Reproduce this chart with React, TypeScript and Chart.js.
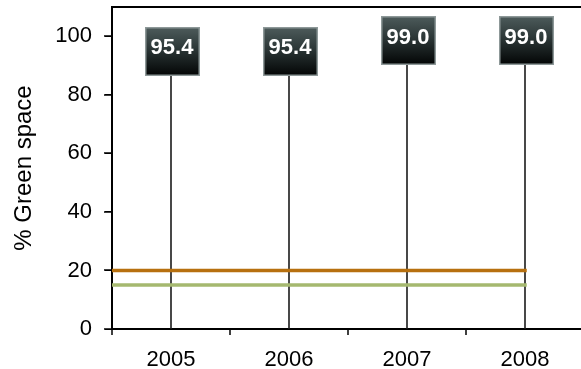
import { useEffect, useRef } from "react";
import { Chart, registerables } from "chart.js";

Chart.register(...registerables);

// Share of green space per year
const years = ["2005", "2006", "2007", "2008"];
const greenSpace = [95.4, 95.4, 99.0, 99.0];

// Horizontal reference levels
const targetLevel = 20;
const minimumLevel = 15;

// Axis ticks
const yTicks = [0, 20, 40, 60, 80, 100];
const xBoundaryTicks = [-0.5, 0.5, 1.5, 2.5, 3.5];
const xStart = xBoundaryTicks[0];

const FONT = "'Liberation Sans', Arial, Helvetica, sans-serif";

// Plot frame: top line, left axis line and its outward tick marks
const frame = {
  id: "frame",
  beforeDatasetsDraw(chart: any) {
    const { ctx, chartArea, width } = chart;
    const ys = chart.scales.y;
    ctx.save();
    ctx.fillStyle = "#000";
    ctx.fillRect(chartArea.left - 1, chartArea.top - 1, width - chartArea.left + 1, 2);
    ctx.fillRect(chartArea.left - 1, chartArea.top - 1, 2, chartArea.bottom - chartArea.top + 2);
    yTicks.forEach((t) => {
      const py = Math.round(ys.getPixelForValue(t));
      ctx.fillRect(chartArea.left - 8, py - 0.75, 8, 1.5);
    });
    ctx.restore();
  },
};

// Dark value boxes sitting on top of each drop line
const valueBoxes = {
  id: "valueBoxes",
  afterDatasetsDraw(chart: any) {
    const { ctx } = chart;
    const xs = chart.scales.x;
    const ys = chart.scales.y;
    const w = 55;
    const h = 49;
    ctx.save();
    greenSpace.forEach((v, i) => {
      const cx = xs.getPixelForValue(i) + 1;
      const cy = ys.getPixelForValue(v) + 1.5;
      const left = Math.round(cx - w / 2);
      const top = Math.round(cy - h / 2);
      const grad = ctx.createLinearGradient(0, top, 0, top + h);
      grad.addColorStop(0, "#4e5c5c");
      grad.addColorStop(0.45, "#2b3636");
      grad.addColorStop(1, "#020404");
      ctx.fillStyle = grad;
      ctx.fillRect(left, top, w, h);
      ctx.strokeStyle = "#8d9898";
      ctx.lineWidth = 1.5;
      ctx.strokeRect(left + 0.75, top + 0.75, w - 1.5, h - 1.5);
      ctx.fillStyle = "#ffffff";
      ctx.font = `bold 22px ${FONT}`;
      ctx.textAlign = "center";
      ctx.textBaseline = "middle";
      ctx.fillText(v.toFixed(1), cx, cy - 3);
    });
    ctx.restore();
  },
};

export default function App() {
  const canvasRef = useRef<HTMLCanvasElement | null>(null);

  useEffect(() => {
    document.body.style.margin = "0";
    document.body.style.overflow = "hidden";
    document.documentElement.style.overflow = "hidden";
    const canvas = canvasRef.current;
    if (!canvas) return;

    const chart = new Chart(canvas, {
      type: "bar",
      data: {
        datasets: [
          {
            type: "bar",
            data: greenSpace.map((v, i) => ({ x: i, y: v })),
            backgroundColor: "#222222",
            barThickness: 1,
            order: 2,
          } as any,
          {
            type: "line",
            data: [
              { x: xStart, y: targetLevel },
              { x: years.length - 1, y: targetLevel },
            ],
            borderColor: "#b7700f",
            borderWidth: 3.5,
            borderCapStyle: "square",
            pointRadius: 0,
            order: 1,
          },
          {
            type: "line",
            data: [
              { x: xStart, y: minimumLevel },
              { x: years.length - 1, y: minimumLevel },
            ],
            borderColor: "#a5b86f",
            borderWidth: 3.5,
            borderCapStyle: "square",
            pointRadius: 0,
            order: 1,
          },
        ],
      },
      options: {
        animation: false,
        responsive: false,
        layout: { padding: { top: 7, right: 16, left: 0, bottom: 0 } },
        plugins: {
          legend: { display: false },
          tooltip: { enabled: false },
        },
        scales: {
          x: {
            type: "linear",
            min: -0.5,
            max: 3.5,
            offset: false,
            afterBuildTicks(scale: any) {
              const vals = [...xBoundaryTicks, ...years.map((_, i) => i)].sort(
                (a, b) => a - b
              );
              scale.ticks = vals.map((v) => ({ value: v }));
            },
            afterFit(scale: any) {
              scale.height = 40;
              scale.paddingLeft = 0;
              scale.paddingRight = 0;
            },
            grid: {
              offset: false,
              drawOnChartArea: true,
              lineWidth: 2,
              color: (ctx: any) =>
                ctx.tick?.value === xStart ? "#000" : "rgba(0,0,0,0)",
              tickLength: 6,
              tickWidth: 1.5,
              tickColor: (ctx: any) =>
                Number.isInteger(ctx.tick?.value) ? "rgba(0,0,0,0)" : "#000",
            },
            border: { display: true, color: "#000", width: 2 },
            ticks: {
              autoSkip: false,
              maxRotation: 0,
              padding: 12,
              color: "#000",
              font: { family: FONT, size: 22 },
              callback: (value: any) =>
                Number.isInteger(value) ? years[value as number] : "",
            },
          },
          y: {
            min: 0,
            max: 110,
            afterBuildTicks(scale: any) {
              scale.ticks = yTicks.map((v) => ({ value: v }));
            },
            afterFit(scale: any) {
              scale.width = 112;
              scale.paddingTop = 0;
              scale.paddingBottom = 0;
            },
            grid: {
              drawOnChartArea: false,
              tickLength: 7,
              tickColor: "#000",
            },
            border: { display: true, color: "#000", width: 2 },
            ticks: {
              padding: 13,
              color: "#000",
              font: { family: FONT, size: 22 },
            },
            title: {
              display: true,
              text: "% Green space",
              color: "#000",
              font: { family: FONT, size: 24 },
              padding: { top: 10, bottom: 0 },
            },
          },
        },
      },
      plugins: [frame, valueBoxes],
    });

    return () => chart.destroy();
  }, []);

  return (
    <div style={{ width: 600, height: 369, overflow: "hidden" }}>
      <canvas ref={canvasRef} width={600} height={369} style={{ display: "block" }} />
    </div>
  );
}
